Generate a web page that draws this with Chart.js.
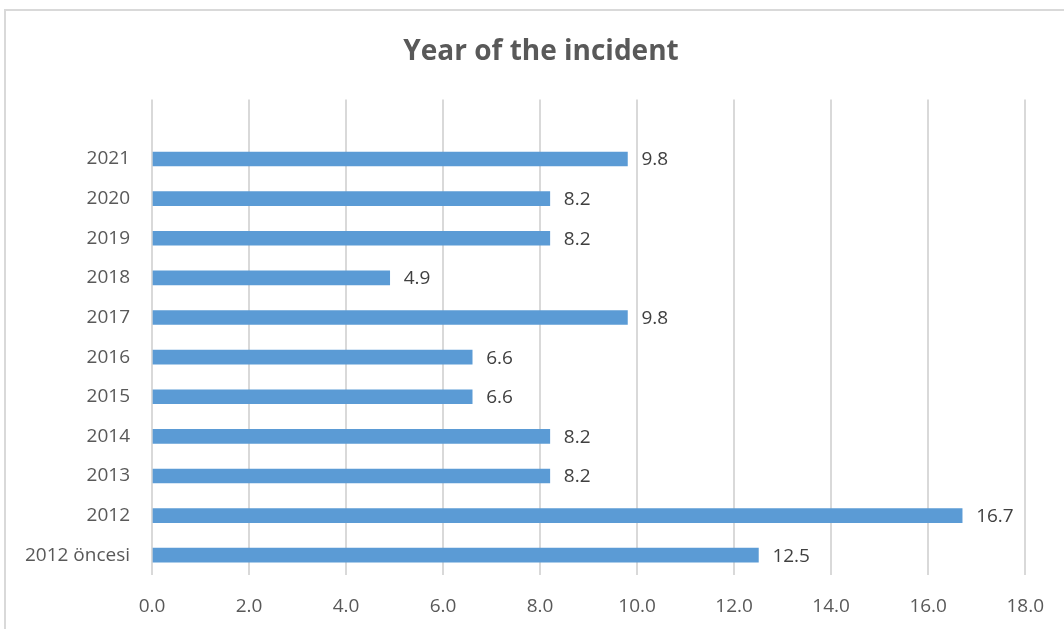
<!DOCTYPE html>
<html>
<head>
<meta charset="utf-8">
<title>Year of the incident</title>
<script src="https://cdn.jsdelivr.net/npm/chart.js@4.4.1/dist/chart.umd.min.js"></script>
<style>
  html, body { margin: 0; padding: 0; background: #fff; overflow: hidden; }
  #wrap { position: relative; width: 1064px; height: 629px; }
  #frame {
    position: absolute; left: 4px; top: 9px; width: 1080px; height: 640px;
    border: 2px solid #d9d9d9; box-sizing: border-box;
  }
  canvas { position: absolute; left: 0; top: 0; }
</style>
</head>
<body>
<div id="wrap">
  <div id="frame"></div>
  <canvas id="incidentChart" width="1064" height="629"></canvas>
</div>
<script>
// top row is an empty category left in the sheet
const years = ["", "2021", "2020", "2019", "2018", "2017", "2016", "2015", "2014", "2013", "2012", "2012 öncesi"];
const shares = [null, 9.8, 8.2, 8.2, 4.9, 9.8, 6.6, 6.6, 8.2, 8.2, 16.7, 12.5];
const xTicks = [0, 2, 4, 6, 8, 10, 12, 14, 16, 18];

const FONT = "'Open Sans', sans-serif";

// value printed just past the end of each bar
const barValues = {
    id: "barValues",
    afterDatasetsDraw(chart) {
        const ctx = chart.ctx;
        const meta = chart.getDatasetMeta(0);
        ctx.save();
        ctx.font = "19px " + FONT;
        ctx.fillStyle = "#404040";
        ctx.textAlign = "left";
        ctx.textBaseline = "middle";
        meta.data.forEach((bar, i) => {
            const v = shares[i];
            if (v === null) return;
            ctx.fillText(v.toFixed(1), bar.x + 14, bar.y + 1);
        });
        ctx.restore();
    }
};

// the frame is wider than the canvas, so nudge the title to its middle
const titleShift = {
    id: "titleShift",
    afterLayout(chart) {
        const t = chart.titleBlock;
        if (!t) return;
        t.left += 28;
        t.right += 28;
    }
};

new Chart(document.getElementById("incidentChart"), {
    type: "bar",
    data: {
        labels: years,
        datasets: [{
            data: shares,
            backgroundColor: "#5b9bd5",
            barThickness: 14,
        }],
    },
    options: {
        indexAxis: "y",
        responsive: false,
        animation: false,
        layout: { padding: { left: 0, right: 38, top: 0, bottom: 0 } },
        plugins: {
            legend: { display: false },
            tooltip: { enabled: false },
            title: {
                display: true,
                text: "Year of the incident",
                color: "#595959",
                font: { family: FONT, size: 28, weight: "bold" },
                padding: { top: 35, bottom: 31 },
            },
        },
        scales: {
            x: {
                min: 0,
                max: 18,
                afterBuildTicks: (scale) => { scale.ticks = xTicks.map(v => ({ value: v })); },
                afterFit: (scale) => { scale.height = 54; },
                grid: { color: "#d9d9d9", lineWidth: 2, drawTicks: false },
                border: { display: false },
                ticks: {
                    color: "#595959",
                    font: { family: FONT, size: 19 },
                    padding: 20,
                    callback: (v) => Number(v).toFixed(1),
                },
            },
            y: {
                afterFit: (scale) => { scale.width = 152; },
                grid: { display: false, drawTicks: false },
                border: { display: false },
                ticks: {
                    color: "#595959",
                    font: { family: FONT, size: 19 },
                    padding: 22,
                },
            },
        },
    },
    plugins: [barValues, titleShift],
});
</script>
</body>
</html>
